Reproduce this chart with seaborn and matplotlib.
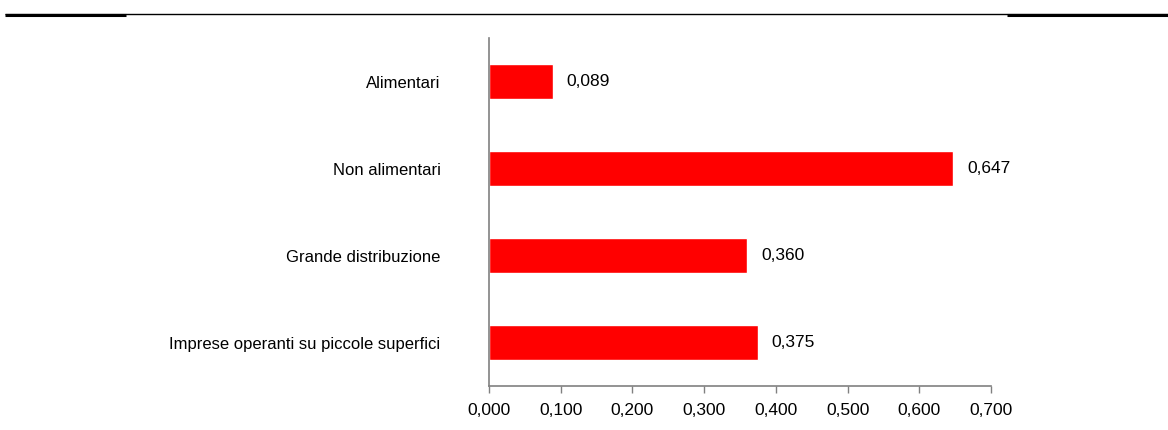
import numpy as np
import pandas as pd
import matplotlib
matplotlib.use("Agg")
import matplotlib.pyplot as plt
from matplotlib.lines import Line2D
import seaborn as sns

# Data
categories = ["Alimentari", "Non alimentari", "Grande distribuzione",
              "Imprese operanti su piccole superfici"]
values = [0.089, 0.647, 0.360, 0.375]
xticks = [0.0, 0.1, 0.2, 0.3, 0.4, 0.5, 0.6, 0.7]

df = pd.DataFrame({"categoria": categories, "valore": values})

sns.set_style("white")
plt.rcParams['font.family'] = ['Liberation Sans', 'DejaVu Sans']
plt.rcParams['text.color'] = 'black'
plt.rcParams['xtick.color'] = 'black'
plt.rcParams['ytick.color'] = 'black'

fig = plt.figure(figsize=(11.68, 4.30), dpi=100)
ax = fig.add_axes([0.4187, 0.1023, 0.4298, 0.8093])

sns.barplot(data=df, x="valore", y="categoria", color="#FF0000",
            saturation=1, width=0.4, ax=ax)

# value labels, italian decimal comma
for i, v in enumerate(values):
    ax.annotate(f"{v:.3f}".replace(".", ","), xy=(v, i), xytext=(10, 0),
                textcoords="offset points", va="center", ha="left",
                fontsize=12.5, color="black")

ax.set_xlim(0, 0.7)
ax.set_ylim(3.5, -0.5)
ax.set_xticks(xticks)
ax.set_xticklabels([f"{t:.3f}".replace(".", ",") for t in xticks], fontsize=12.5)
ax.tick_params(axis="x", direction="out", length=5, width=1, color="#808080",
               labelcolor="black", pad=7, bottom=True)
ax.tick_params(axis="y", length=0, pad=35, labelsize=12, labelcolor="black")
ax.set_xlabel("")
ax.set_ylabel("")

for s in ["top", "right"]:
    ax.spines[s].set_visible(False)
for s in ["left", "bottom"]:
    ax.spines[s].set_color("#808080")
    ax.spines[s].set_linewidth(1.2)

# horizontal rule at the top of the page
fig.add_artist(Line2D([5 / 1168, 1.0], [1 - 13.5 / 430] * 2, color="black",
                      lw=1.0, transform=fig.transFigure, solid_capstyle="butt"))
fig.add_artist(Line2D([5 / 1168, 126 / 1168], [1 - 14.5 / 430] * 2, color="black",
                      lw=2.2, transform=fig.transFigure, solid_capstyle="butt"))
fig.add_artist(Line2D([1007 / 1168, 1.0], [1 - 14.5 / 430] * 2, color="black",
                      lw=2.2, transform=fig.transFigure, solid_capstyle="butt"))

fig.savefig("out.png", dpi=100, facecolor="white")
